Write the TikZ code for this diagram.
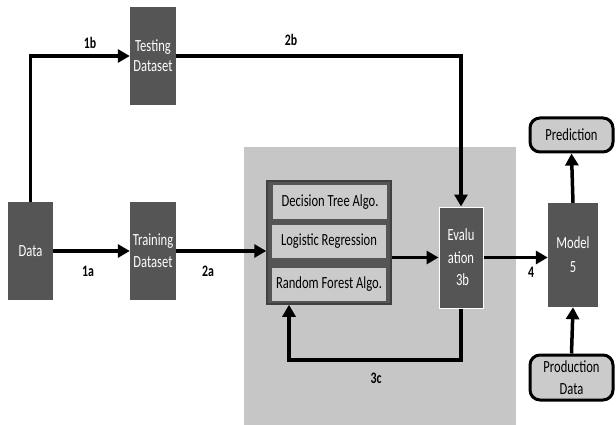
\documentclass[tikz,border=0pt]{standalone}
\usepackage{fontspec}
\newfontfamily\boxfont[FakeStretch=0.74]{Carlito}
\usetikzlibrary{arrows.meta,calc}
\definecolor{darkbox}{HTML}{555555}
\definecolor{panel}{HTML}{C6C6C6}
\definecolor{lightbox}{HTML}{CBCBCB}
\tikzset{
  darkrect/.style={fill=darkbox, draw=none, text=white, align=center,
    inner sep=0pt, font=\boxfont\fontsize{17}{21}\selectfont},
  algobox/.style={fill=lightbox, draw=none, text=black, minimum width=114, minimum height=33,
    inner sep=0pt, font=\boxfont\fontsize{17}{18}\selectfont},
  endbox/.style={fill=lightbox, draw=black, line width=3, rounded corners=10,
    minimum width=83, align=center, inner sep=0pt, font=\boxfont\fontsize{17}{22}\selectfont},
  flow/.style={line width=3.5, -{Triangle[length=12,width=13]}},
  steplabel/.style={font=\boxfont\bfseries\fontsize{16}{18}\selectfont, inner sep=0pt}
}
\begin{document}
\begin{tikzpicture}[x=1pt,y=-1pt]
  \useasboundingbox[fill=white] (0,0) rectangle (616,425);

  % shaded panel behind the model-building stage
  \node[fill=panel, draw=none, minimum width=272, minimum height=278, inner sep=0pt] (panel) at (380,286) {};

  % data sources
  \node[darkrect, minimum width=45, minimum height=98] (data) at (30.5,251) {Data};
  \node[darkrect, minimum width=46, minimum height=98, font=\boxfont\fontsize{17}{20}\selectfont] (test) at (153,56) {Testing\\Dataset};
  \node[darkrect, minimum width=46, minimum height=98, font=\boxfont\fontsize{17}{22}\selectfont] (train) at (153,251) {Training\\Dataset};

  % algorithms group
  \node[fill=darkbox, draw=black!75, line width=1.5, minimum width=124, minimum height=123, inner sep=0pt] (algo) at (329,242.5) {};
  \node[algobox] (dt) at (330,202) {Decision Tree Algo.};
  \node[algobox] (lr) at (329,241.5) {Logistic Regression};
  \node[algobox] (rf) at (329,284.5) {Random Forest Algo.};

  % evaluation and model
  \node[darkrect, draw=white, line width=1, minimum width=44, minimum height=101, font=\boxfont\fontsize{17}{22.5}\selectfont] (eval) at (461,257.5) {Evalu\\ation\\\hspace*{3pt}3b};
  \node[darkrect, minimum width=50, minimum height=104, font=\boxfont\fontsize{17}{24}\selectfont] (model) at (573,255) {Model\\5};

  % prediction output and production input
  \node[endbox, minimum height=34] (pred) at (571.5,135) {Prediction};
  \node[endbox, minimum height=45] (prod) at (571.5,377.5) {Production\\Data};

  % connectors
  \draw[flow] (data.north) |- (test.west);
  \draw[flow] (data.east) -- (train.west);
  \draw[flow] (train.east) -- (train.east -| algo.west);
  \draw[flow] (test.east) -| (eval.north);
  \draw[flow] (algo.east |- eval.west) -- (eval.west);
  \draw[flow] (eval.east) -- (eval.east -| model.west);
  \coordinate (loop) at (289,360);
  \draw[flow] (eval.south) |- (loop) -- (loop |- algo.south);
  \draw[flow] (model.north) -- (pred.south);
  \draw[flow] (prod.north) -- (model.south);

  % step labels
  \node[steplabel] (l1b) at (90,43) {1b};
  \node[steplabel] (l2b) at (291,40) {2b};
  \node[steplabel] (l1a) at (88,271) {1a};
  \node[steplabel] (l2a) at (208,271) {2a};
  \node[steplabel] (l3c) at (376,378) {3c};
  \node[steplabel] (l4) at (531,272) {4};
\end{tikzpicture}
\end{document}
